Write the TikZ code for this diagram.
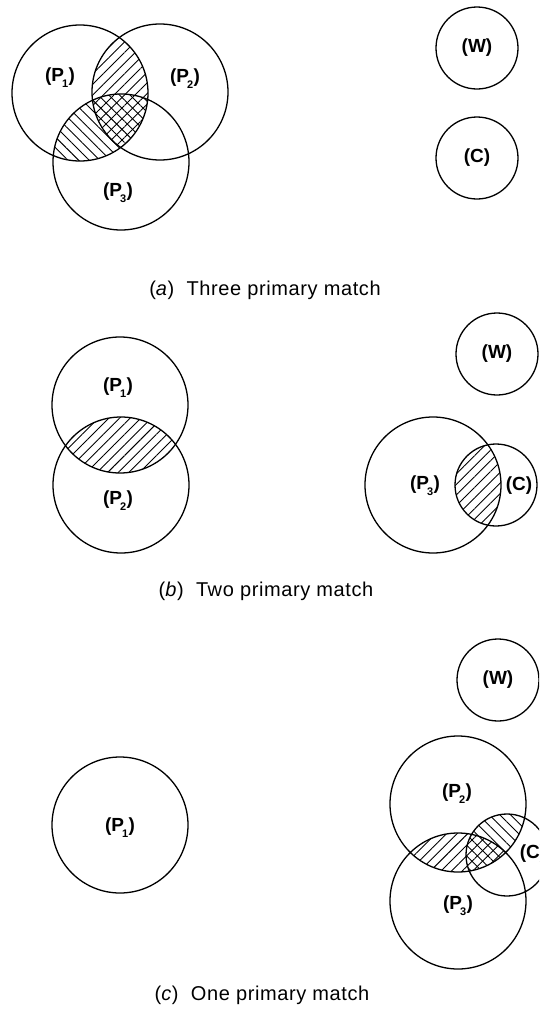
\documentclass[tikz,border=0pt]{standalone}
\usepackage{fontspec}
\setmainfont{Liberation Sans}
\newfontfamily\capfont[LetterSpace=3]{Liberation Sans}
\usetikzlibrary{patterns.meta}

\newcommand{\setlbl}[1]{(P\kern-2pt\raisebox{-6pt}{\fontsize{11}{11}\selectfont #1}\kern0.5pt)}

\begin{document}
\begin{tikzpicture}[x=1pt,y=-1pt,
	set/.style={draw,circle,line width=1.3pt,inner sep=0pt,minimum size=136pt},
	small set/.style={set,minimum size=82pt},
	tag/.style={inner sep=0pt,font=\bfseries\fontsize{19}{19}\selectfont},
	caption/.style={inner sep=0pt,font=\capfont\fontsize{20}{20}\selectfont},
	hatch ne/.style={pattern={Lines[angle=45,distance=7.5pt,line width=0.9pt]}},
	hatch nw/.style={pattern={Lines[angle=-45,distance=7.5pt,line width=0.9pt]}}]
	\clip (0,0) rectangle (539,1015);

	\node[set] (a1) at (80,93) {};
	\node[set] (a2) at (160,92) {};
	\node[set] (a3) at (121,162) {};
	\node[small set] (aw) at (477,48) {};
	\node[small set] (ac) at (477,158) {};
	\begin{scope}
		\clip (a1.center) circle (68pt);
		\fill[hatch ne] (a2.center) circle (68pt);
		\fill[hatch nw] (a3.center) circle (68pt);
	\end{scope}
	\node[tag] (la1) at (60,78) {\setlbl{1}};
	\node[tag] (la2) at (185,79) {\setlbl{2}};
	\node[tag] (la3) at (118,193) {\setlbl{3}};
	\node[tag] (law) at (aw) {(W)};
	\node[tag] (lac) at (ac) {(C)};
	\node[caption] (capa) at (265,290) {(\textit{a})\ \ Three primary match};

	\node[set] (b1) at (120,405) {};
	\node[set] (b2) at (121,485) {};
	\node[small set] (bw) at (497,354) {};
	\node[set] (b3) at (433,485) {};
	\node[small set] (bc) at (496,485) {};
	\begin{scope}
		\clip (b1.center) circle (68pt);
		\fill[hatch ne] (b2.center) circle (68pt);
	\end{scope}
	\begin{scope}
		\clip (b3.center) circle (68pt);
		\fill[hatch ne] (bc.center) circle (41pt);
	\end{scope}
	\node[tag] (lb1) at (118,388) {\setlbl{1}};
	\node[tag] (lb2) at (118,501) {\setlbl{2}};
	\node[tag] (lbw) at (bw) {(W)};
	\node[tag] (lb3) at (425,486) {\setlbl{3}};
	\node[tag] (lbc) at (519,486) {(C)};
	\node[caption] (capb) at (266,591) {(\textit{b})\ \ Two primary match};

	\node[set] (c1) at (120,825) {};
	\node[small set] (cw) at (498,680) {};
	\node[set] (c2) at (458,804) {};
	\node[set] (c3) at (458,901) {};
	\node[small set] (cc) at (507,855) {};
	\begin{scope}
		\clip (c2.center) circle (68pt);
		\fill[hatch ne] (c3.center) circle (68pt);
		\fill[hatch nw] (cc.center) circle (41pt);
	\end{scope}
	\node[tag] (lc1) at (120,828) {\setlbl{1}};
	\node[tag] (lcw) at (cw) {(W)};
	\node[tag] (lc2) at (457,794) {\setlbl{2}};
	\node[tag] (lc3) at (458,906) {\setlbl{3}};
	\node[tag] (lcc) at (533,854) {(C)};
	\node[caption] (capc) at (262,995) {(\textit{c})\ \ One primary match};
\end{tikzpicture}
\end{document}
